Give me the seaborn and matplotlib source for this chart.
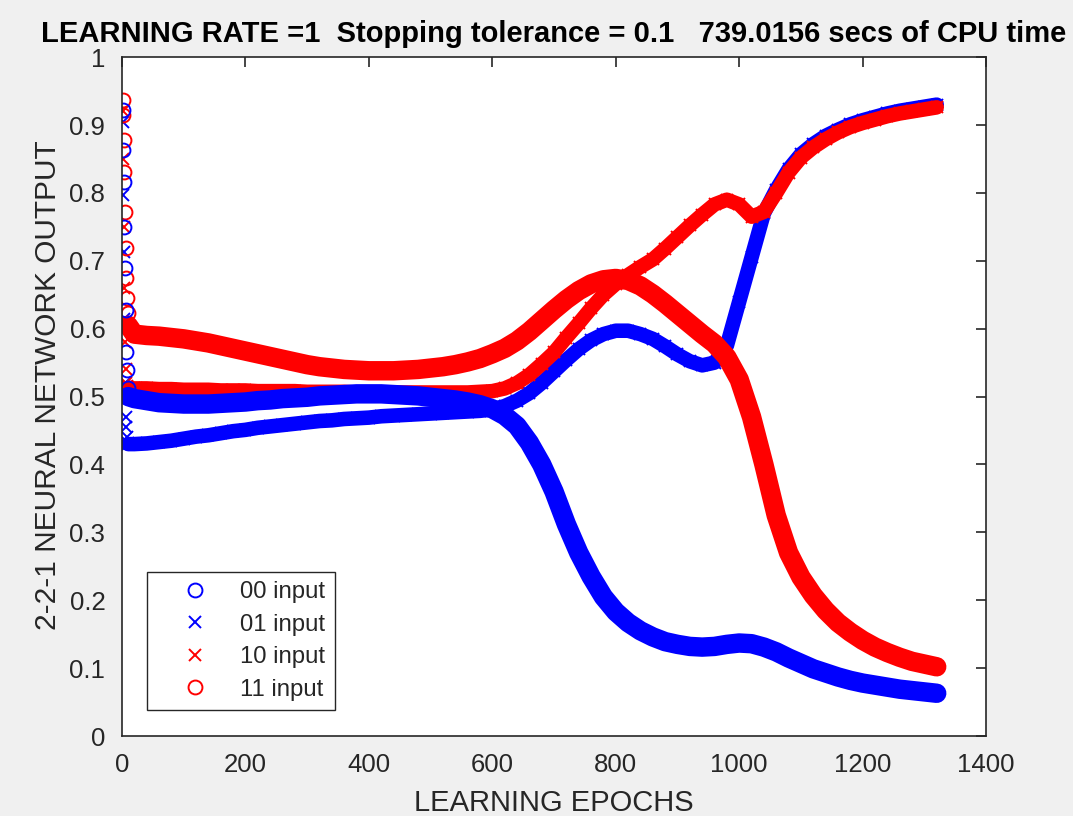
import numpy as np
import pandas as pd
import matplotlib
matplotlib.use("Agg")
import matplotlib.pyplot as plt
from matplotlib.lines import Line2D
import seaborn as sns

# Training epochs at which the network outputs were recorded
epochs = list(range(1, 10)) + [10] + list(range(20, 1321, 20))

# Network output for each of the four XOR input patterns
out_00 = [0.922, 0.863, 0.816, 0.750, 0.690, 0.627, 0.566, 0.539, 0.512,
          0.500,
          0.497, 0.494, 0.491, 0.490, 0.489, 0.489, 0.489, 0.490, 0.491, 0.492,
          0.494, 0.495, 0.497, 0.498, 0.499, 0.501, 0.502, 0.503, 0.504, 0.504,
          0.504, 0.503, 0.502, 0.501, 0.499, 0.497, 0.495, 0.492, 0.488, 0.482,
          0.472, 0.457, 0.432, 0.400, 0.360, 0.312, 0.270, 0.235, 0.205, 0.183,
          0.167, 0.155, 0.146, 0.139, 0.135, 0.132, 0.131, 0.132, 0.135, 0.137,
          0.136, 0.131, 0.124, 0.115, 0.107, 0.099, 0.093, 0.087, 0.082, 0.078,
          0.075, 0.072, 0.069, 0.067, 0.065, 0.063]

out_01 = [0.905, 0.797, 0.713, 0.615, 0.520, 0.470, 0.455, 0.440, 0.432,
          0.430,
          0.430, 0.431, 0.433, 0.435, 0.438, 0.441, 0.443, 0.446, 0.449, 0.451,
          0.454, 0.456, 0.458, 0.460, 0.462, 0.464, 0.465, 0.467, 0.468, 0.469,
          0.471, 0.472, 0.473, 0.474, 0.475, 0.476, 0.477, 0.478, 0.479, 0.481,
          0.486, 0.494, 0.505, 0.520, 0.537, 0.554, 0.570, 0.583, 0.592, 0.597,
          0.597, 0.592, 0.585, 0.574, 0.562, 0.552, 0.546, 0.550, 0.575, 0.640,
          0.705, 0.770, 0.805, 0.835, 0.857, 0.872, 0.884, 0.893, 0.901, 0.907,
          0.912, 0.917, 0.921, 0.924, 0.927, 0.930]

out_10 = [0.920, 0.850, 0.750, 0.660, 0.580, 0.540, 0.520, 0.515, 0.513,
          0.513,
          0.512, 0.512, 0.511, 0.511, 0.510, 0.510, 0.510, 0.509, 0.509, 0.509,
          0.508, 0.508, 0.508, 0.508, 0.507, 0.507, 0.507, 0.507, 0.506, 0.506,
          0.506, 0.506, 0.506, 0.506, 0.506, 0.506, 0.506, 0.506, 0.507, 0.508,
          0.512, 0.520, 0.532, 0.548, 0.565, 0.587, 0.608, 0.630, 0.650, 0.666,
          0.679, 0.691, 0.702, 0.718, 0.735, 0.752, 0.768, 0.783, 0.790, 0.783,
          0.765, 0.772, 0.800, 0.830, 0.852, 0.867, 0.879, 0.889, 0.897, 0.903,
          0.908, 0.913, 0.917, 0.920, 0.923, 0.926]

out_11 = [0.937, 0.915, 0.878, 0.831, 0.772, 0.719, 0.675, 0.645, 0.623,
          0.605,
          0.592, 0.590, 0.589, 0.587, 0.585, 0.582, 0.579, 0.575, 0.571, 0.567,
          0.563, 0.559, 0.555, 0.551, 0.547, 0.544, 0.542, 0.540, 0.539, 0.538,
          0.538, 0.538, 0.539, 0.540, 0.542, 0.544, 0.547, 0.551, 0.556, 0.563,
          0.571, 0.582, 0.596, 0.612, 0.628, 0.643, 0.656, 0.666, 0.672, 0.674,
          0.671, 0.663, 0.651, 0.637, 0.622, 0.607, 0.592, 0.578, 0.558, 0.525,
          0.470, 0.400, 0.325, 0.270, 0.234, 0.207, 0.185, 0.167, 0.153, 0.141,
          0.131, 0.123, 0.116, 0.110, 0.106, 0.102]

labels = ["00 input", "01 input", "10 input", "11 input"]
x_ticks = [0, 200, 400, 600, 800, 1000, 1200, 1400]
y_ticks = [0, 0.1, 0.2, 0.3, 0.4, 0.5, 0.6, 0.7, 0.8, 0.9, 1.0]
y_tick_labels = ["0", "0.1", "0.2", "0.3", "0.4", "0.5", "0.6", "0.7", "0.8", "0.9", "1"]

title = "LEARNING RATE =1  Stopping tolerance = 0.1   739.0156 secs of CPU time"

sns.set_theme(style="white")
plt.rcParams["font.family"] = ["Liberation Sans", "DejaVu Sans"]
text_color = "#262626"

df = pd.DataFrame({"epoch": epochs, "00": out_00, "01": out_01,
                   "10": out_10, "11": out_11})

fig = plt.figure(figsize=(10.73, 8.16), dpi=100, facecolor="#f0f0f0")
ax = fig.add_axes([0.1137, 0.098, 0.8053, 0.832])
ax.set_facecolor("white")

# (colour, marker, band width in pt, marker size)
styles = {
    "01": ("#0000ff", "x", 10.5, 9),
    "10": ("#ff0000", "x", 10.5, 9),
    "11": ("#ff0000", "o", 14, 10),
    "00": ("#0000ff", "o", 14, 10),
}

for col in ["01", "10", "11", "00"]:
    color, mk, band, msize = styles[col]
    settled = df[df["epoch"] >= 10]
    # dense marker trail drawn as a solid band
    sns.lineplot(data=settled, x="epoch", y=col, ax=ax, color=color,
                 linewidth=band, solid_capstyle="round", solid_joinstyle="round",
                 estimator=None, sort=False)
    # individual markers (visible where the output changes fast)
    if mk == "o":
        sns.lineplot(data=df, x="epoch", y=col, ax=ax, color=color,
                     linestyle="", marker="o", markersize=msize,
                     markerfacecolor="none", markeredgecolor=color,
                     markeredgewidth=1.4, estimator=None, sort=False)
    else:
        sns.lineplot(data=df, x="epoch", y=col, ax=ax, color=color,
                     linestyle="", marker="x", markersize=msize,
                     markeredgecolor=color, markeredgewidth=1.4,
                     estimator=None, sort=False)

ax.set_xlim(0, 1400)
ax.set_ylim(0, 1)
ax.set_xticks(x_ticks)
ax.set_xticklabels([str(t) for t in x_ticks])
ax.set_yticks(y_ticks)
ax.set_yticklabels(y_tick_labels)

ax.tick_params(axis="both", direction="in", length=7, width=1.2,
               colors=text_color, labelsize=18.5, top=True, right=True,
               labeltop=False, labelright=False, pad=12)
for s in ax.spines.values():
    s.set_visible(True)
    s.set_color(text_color)
    s.set_linewidth(1.2)

ax.set_xlabel("LEARNING EPOCHS", fontsize=21, color=text_color)
ax.set_ylabel("2-2-1 NEURAL NETWORK OUTPUT", fontsize=21.5, color=text_color)
ax.xaxis.set_label_coords(0.5, -0.078)
ax.yaxis.set_label_coords(-0.069, 0.517)
ax.set_title(title, fontsize=21, fontweight="bold", color="black", pad=11)

handles = [
    Line2D([], [], linestyle="", marker="o", markersize=10, markerfacecolor="none",
           markeredgecolor="#0000ff", markeredgewidth=1.4),
    Line2D([], [], linestyle="", marker="x", markersize=8.5, markeredgecolor="#0000ff",
           markeredgewidth=1.4),
    Line2D([], [], linestyle="", marker="x", markersize=8.5, markeredgecolor="#ff0000",
           markeredgewidth=1.4),
    Line2D([], [], linestyle="", marker="o", markersize=10, markerfacecolor="none",
           markeredgecolor="#ff0000", markeredgewidth=1.4),
]
leg = ax.legend(handles, labels, loc="lower left", bbox_to_anchor=(0.029, 0.038),
                borderaxespad=0, fontsize=17.2, frameon=True, fancybox=False,
                framealpha=1, edgecolor=text_color, borderpad=0.4,
                handlelength=3.2, handletextpad=0.29, labelspacing=0.44)
leg.get_frame().set_linewidth(1.0)
for t in leg.get_texts():
    t.set_color(text_color)

fig.savefig("out.png", dpi=100, facecolor=fig.get_facecolor())
